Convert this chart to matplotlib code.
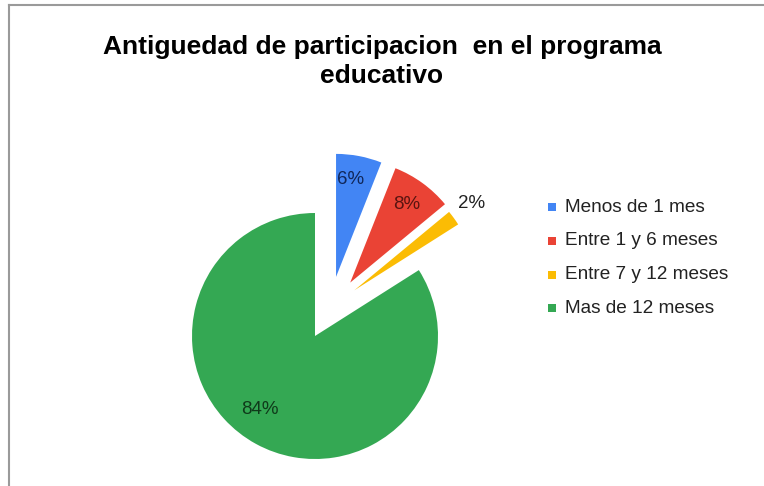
import matplotlib.pyplot as plt
import numpy as np
from matplotlib.patches import Rectangle

plt.rcParams['font.family'] = ['Liberation Sans', 'DejaVu Sans']

categorias = ['Menos de 1 mes', 'Entre 1 y 6 meses', 'Entre 7 y 12 meses', 'Mas de 12 meses']
porcentajes = [6, 8, 2, 84]
colores = ['#4285F4', '#EA4335', '#FBBC04', '#34A853']
colores_texto = ['#10275a', '#5a1410', '#222222', '#0f3a1a']

# how far each slice is pulled out (in radii) and the turn of that pull (degrees)
desplazamiento = [0.51, 0.52, 0.49, 0.0]
giro = [-8.8, 2.6, 13.3, 0.0]
# where each percentage goes, measured from the slice's own corner
dist_txt = [0.8, 0.78, 1.19, 0.75]
giro_txt = [2.6, 0.0, 0.5, -8.0]

W, H = 764, 486
fig = plt.figure(figsize=(W / 100, H / 100), dpi=100)

cx, cy, r = 315, 336, 123
ax = fig.add_axes([0, 0, 1, 1])

wedges, _ = ax.pie(porcentajes, colors=colores, startangle=90, counterclock=False,
                   radius=1, center=(0, 0), frame=True, wedgeprops=dict(linewidth=0))
ax.set_xlim(-cx / r, (W - cx) / r)
ax.set_ylim(-(H - cy) / r, cy / r)
ax.axis('off')

for w, p, d, g, dt, gt, c in zip(wedges, porcentajes, desplazamiento, giro,
                                 dist_txt, giro_txt, colores_texto):
    mid = np.deg2rad((w.theta1 + w.theta2) / 2)
    ang = mid + np.deg2rad(g)
    ox, oy = d * np.cos(ang), d * np.sin(ang)
    w.set_center((ox, oy))
    ta = mid + np.deg2rad(gt)
    ax.text(ox + dt * np.cos(ta), oy + dt * np.sin(ta), f'{p}%', ha='center', va='center',
            fontsize=13.5, color=c)

fig.text(0.5, 1 - 61.5 / H, 'Antiguedad de participacion  en el programa\neducativo',
         ha='center', va='center', fontsize=19, fontweight='bold', linespacing=1.25)

# legend
for i, (cat, col) in enumerate(zip(categorias, colores)):
    y = 1 - (207 + i * 33.8) / H
    fig.patches.append(Rectangle((548 / W, y - 4 / H), 8 / W, 8 / H, transform=fig.transFigure,
                                 facecolor=col, edgecolor='none'))
    fig.text(565 / W, y, cat, ha='left', va='center', fontsize=13.7, color='#222222')

# chart frame
fig.add_artist(plt.Line2D([9 / W, 9 / W], [0, 1 - 5 / H], transform=fig.transFigure,
                          color='#9a9a9a', linewidth=1.5))
fig.add_artist(plt.Line2D([9 / W, 1], [1 - 5 / H, 1 - 5 / H], transform=fig.transFigure,
                          color='#9a9a9a', linewidth=1.5))

fig.savefig('out.png', dpi=100)
